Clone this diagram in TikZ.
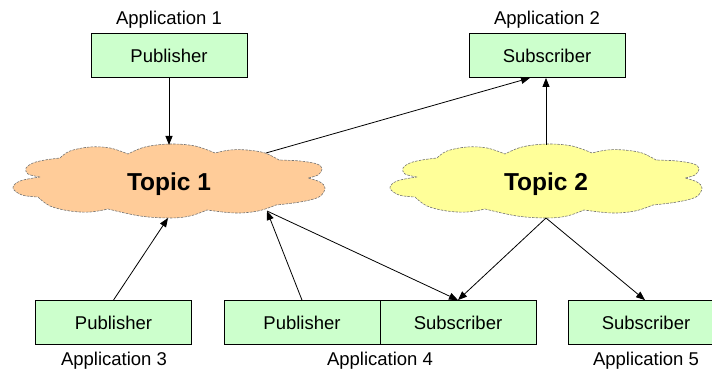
\documentclass[tikz,border=0pt]{standalone}
\usepackage{fontspec}
\setmainfont{Liberation Sans}
\usetikzlibrary{arrows.meta}
\definecolor{appgreen}{RGB}{204,255,204}
\definecolor{topicorange}{RGB}{255,204,153}
\definecolor{topicyellow}{RGB}{255,255,153}
\tikzset{
  appbox/.style={draw=black, line width=0.8pt, fill=appgreen, minimum width=156pt,
    minimum height=44pt, inner sep=0pt, text height=13.5pt, text depth=0pt,
    font=\fontsize{18.5}{22}\selectfont},
  applabel/.style={inner sep=0pt, font=\fontsize{18.5}{22}\selectfont},
  topictext/.style={inner sep=0pt, text height=17.5pt, text depth=0pt,
    font=\fontsize{24.5}{28}\selectfont\bfseries},
  cloudline/.style={draw=black!55, line width=0.6pt, dash pattern=on 2.5pt off 1.2pt},
  arr/.style={draw=black, line width=0.8pt, -{Triangle[length=9pt,width=7pt]}}
}
% cloud outline, drawn around the point (169,182); one smooth plot per puff
\newcommand{\cloudoutline}{%
  plot[smooth, tension=0.6] coordinates {(40,177) (28,174) (26,168) (33,163) (45,160) (60,158)}
  -- plot[smooth, tension=0.6] coordinates {(60,158) (70,151) (90,147) (110,148) (128,154)}
  -- plot[smooth, tension=0.6] coordinates {(128,154) (145,147) (170,144) (195,146) (215,153)}
  -- plot[smooth, tension=0.6] coordinates {(215,153) (230,150) (247,150) (265,153) (279,160)}
  -- plot[smooth, tension=0.6] coordinates {(279,160) (300,161) (317,164) (322,169) (318,175) (308,178)}
  -- plot[smooth, tension=0.6] coordinates {(308,178) (320,182) (325,188) (319,197) (300,202) (276,205)}
  -- plot[smooth, tension=0.6] coordinates {(276,205) (258,211) (235,213) (207,210)}
  -- plot[smooth, tension=0.6] coordinates {(207,210) (190,216) (170,218) (140,216) (108,209)}
  -- plot[smooth, tension=0.6] coordinates {(108,209) (90,212) (70,211) (50,206) (38,197)}
  -- plot[smooth, tension=0.6] coordinates {(38,197) (22,195) (13,188) (20,181) (40,177)}
  -- cycle}
\begin{document}
\begin{tikzpicture}[x=1pt,y=-1pt]
\useasboundingbox (0,0) rectangle (712,371);
% topic clouds
\path[cloudline, fill=topicorange] \cloudoutline;
\begin{scope}[shift={(377,0)}]
  \path[cloudline, fill=topicyellow] \cloudoutline;
\end{scope}
\node[topictext] (t1) at (169,182) {Topic 1};
\node[topictext] (t2) at (546,182) {Topic 2};
% applications
\node[appbox] (p1) at (169,55.5) {Publisher};
\node[appbox] (s2) at (547,55.5) {Subscriber};
\node[appbox] (p3) at (113.5,322.5) {Publisher};
\node[appbox] (p4) at (302,322.5) {Publisher};
\node[appbox] (s4) at (458,322.5) {Subscriber};
\node[appbox] (s5) at (646,322.5) {Subscriber};
\node[applabel] (a1) at (169,20) {Application 1};
\node[applabel] (a2) at (547,20) {Application 2};
\node[applabel] (a3) at (114,361) {Application 3};
\node[applabel] (a4) at (380,361) {Application 4};
\node[applabel] (a5) at (646,361) {Application 5};
% attachment points on the cloud outlines
\coordinate (t1top) at ([shift={(0,-37)}]t1.center);
\coordinate (t1low) at ([shift={(-1,36)}]t1.center);
\coordinate (t1ne) at ([shift={(97,-29)}]t1.center);
\coordinate (t1se) at ([shift={(98,29)}]t1.center);
\coordinate (t2top) at ([shift={(0,-37)}]t2.center);
\coordinate (t2bot) at ([shift={(0,36)}]t2.center);
% connectors
\draw[arr] (p1.south) -- (t1top);
\draw[arr] (t1ne) -- ([xshift=-17pt]s2.south);
\draw[arr] (t2top) -- ([xshift=-1pt]s2.south);
\draw[arr] (p3.north) -- (t1low);
\draw[arr] (p4.north) -- (t1se);
\draw[arr] (t1se) -- (s4.north);
\draw[arr] (t2bot) -- (s4.north);
\draw[arr] (t2bot) -- ([xshift=-1pt]s5.north);
\end{tikzpicture}
\end{document}
